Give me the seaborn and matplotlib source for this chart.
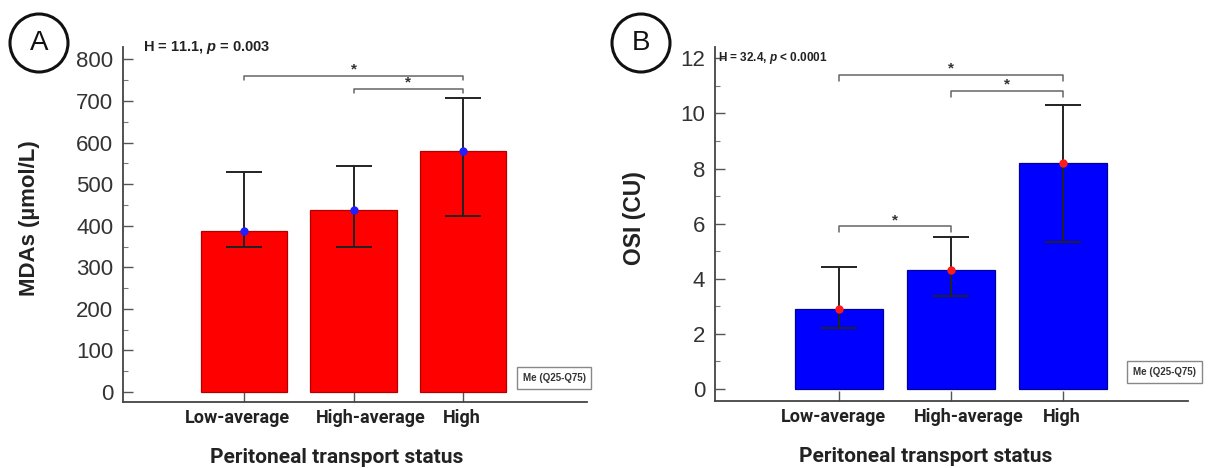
import matplotlib
matplotlib.use("Agg")
import matplotlib.pyplot as plt
import seaborn as sns
from matplotlib.patches import Ellipse
from matplotlib.ticker import AutoMinorLocator, MultipleLocator
from matplotlib.transforms import ScaledTranslation

# ------------------------
# data (median with Q25-Q75)
groups = ["Low-average", "High-average", "High"]

mda_median = [387, 439, 580]
mda_q25 = [348, 348, 424]
mda_q75 = [529, 543, 707]
mda_pairs = [(0, 2, 761), (1, 2, 729)]

osi_median = [2.92, 4.30, 8.20]
osi_q25 = [2.21, 3.37, 5.34]
osi_q75 = [4.43, 5.51, 10.30]
osi_pairs = [(0, 2, 11.41), (1, 2, 10.83), (0, 1, 5.91)]

sns.set_style("ticks")
plt.rcParams["font.family"] = ["Liberation Sans", "DejaVu Sans"]
# bold italic "p" inside the H statistic
plt.rcParams["mathtext.fontset"] = "custom"
plt.rcParams["mathtext.it"] = "Liberation Sans:italic:bold"

W, H = 1208, 468
fig = plt.figure(figsize=(W / 100, H / 100), dpi=100)


def px_axes(x0, y0, x1, y1):
    # pixel box (top-left origin) -> figure fraction
    return fig.add_axes([x0 / W, 1 - y1 / H, (x1 - x0) / W, (y1 - y0) / H])


def panel(ax, med, q25, q75, pairs, bar_col, edge_col, dot_col, ylim, xlim,
          major, tick_len_br, star_off, xlabel_x, label_dx):
    sns.barplot(x=groups, y=med, ax=ax, color=bar_col, saturation=1,
                width=0.79, edgecolor=edge_col, linewidth=0.9, errorbar=None)
    lo = [m - a for m, a in zip(med, q25)]
    hi = [b - m for m, b in zip(med, q75)]
    ax.errorbar(range(len(groups)), med, yerr=[lo, hi], fmt="none",
                ecolor="#222222", elinewidth=1.4, capsize=13, capthick=1.4, zorder=4)
    ax.plot(range(len(groups)), med, "o", color=dot_col, ms=6, mec="none", zorder=5)

    # significance brackets
    for i, j, y in pairs:
        ax.plot([i, i, j, j], [y - tick_len_br, y, y, y - tick_len_br],
                color="#666666", lw=1.1, zorder=3)
        ax.text((i + j) / 2, y + star_off, "*", ha="center", va="center",
                fontsize=11, color="#333333", fontweight="bold")

    ax.set_ylim(*ylim)
    ax.set_xlim(*xlim)
    ax.yaxis.set_major_locator(MultipleLocator(major))
    ax.yaxis.set_minor_locator(AutoMinorLocator(2))
    sns.despine(ax=ax)
    for s in ["left", "bottom"]:
        ax.spines[s].set_color("#444444")
        ax.spines[s].set_linewidth(1.3)
    ax.tick_params(axis="y", which="major", direction="in", length=7, width=1,
                   color="#555555", labelsize=16, labelcolor="#333333", pad=7)
    ax.tick_params(axis="y", which="minor", direction="in", length=3.5, width=0.8,
                   color="#777777")
    ax.tick_params(axis="x", direction="in", length=7, width=1, color="#555555",
                   labelsize=13, labelcolor="#222222", pad=5)
    for lab in ax.get_xticklabels():
        lab.set_fontfamily("Roboto")
        lab.set_fontweight("bold")
    ax.set_xlabel("Peritoneal transport status", fontsize=15, fontfamily="Roboto",
                  fontweight="bold", color="#222222")
    ax.xaxis.set_label_coords(xlabel_x, -0.13)
    ax.set_ylabel("")
    for lab, dx in zip(ax.get_xticklabels(), label_dx):
        lab.set_transform(lab.get_transform() + ScaledTranslation(dx / 72, 0, fig.dpi_scale_trans))


# panel A
axA = px_axes(123, 47, 587, 402)
panel(axA, mda_median, mda_q25, mda_q75, mda_pairs, "#ff0000", "#b00000", "#1f1fff",
      (-24, 830), (-1.105, 3.13), 100, 10, 16, 0.46, [-5, 12, -1])
fig.text(30 / W, 1 - 218 / H, "MDAs (\u00b5mol/L)", rotation=90, ha="center", va="center",
         fontsize=16, fontweight="bold", color="#222222")
fig.text(143 / W, 1 - 48 / H, "H = 11.1, $p$ = 0.003", ha="left", va="center",
         fontsize=10.5, fontweight="bold", color="#222222")
axA.text(0.929, 0.068, "Me (Q25-Q75)", transform=axA.transAxes, ha="center", va="center",
         fontsize=7, fontweight="bold", color="#333333",
         bbox=dict(boxstyle="square,pad=0.6", fc="white", ec="#888888", lw=1))

# panel B
axB = px_axes(715, 47, 1188, 401)
panel(axB, osi_median, osi_q25, osi_q75, osi_pairs, "#0000ff", "#00009a", "#ff1a1a",
      (-0.436, 12.41), (-1.107, 3.116), 2, 0.22, 0.22, 0.445, [-4, 13, -1])
fig.text(634 / W, 1 - 218 / H, "OSI (CU)", rotation=90, ha="center", va="center",
         fontsize=16.5, fontweight="bold", color="#222222")
fig.text(718 / W, 1 - 58 / H, "H = 32.4, $p$ < 0.0001", ha="left", va="center",
         fontsize=8.5, fontweight="bold", color="#222222")
axB.text(0.951, 0.082, "Me (Q25-Q75)", transform=axB.transAxes, ha="center", va="center",
         fontsize=7, fontweight="bold", color="#333333",
         bbox=dict(boxstyle="square,pad=0.6", fc="white", ec="#888888", lw=1))

# panel letters in circles
for cx, cy, letter in [(39, 43, "A"), (641, 43, "B")]:
    fig.add_artist(Ellipse((cx / W, 1 - cy / H), 58 / W, 58 / H, fill=False,
                           ec="#111111", lw=2.2, transform=fig.transFigure))
    fig.text(cx / W, 1 - cy / H, letter, ha="center", va="center", fontsize=20,
             color="#111111")

fig.savefig("out.png", dpi=100)
